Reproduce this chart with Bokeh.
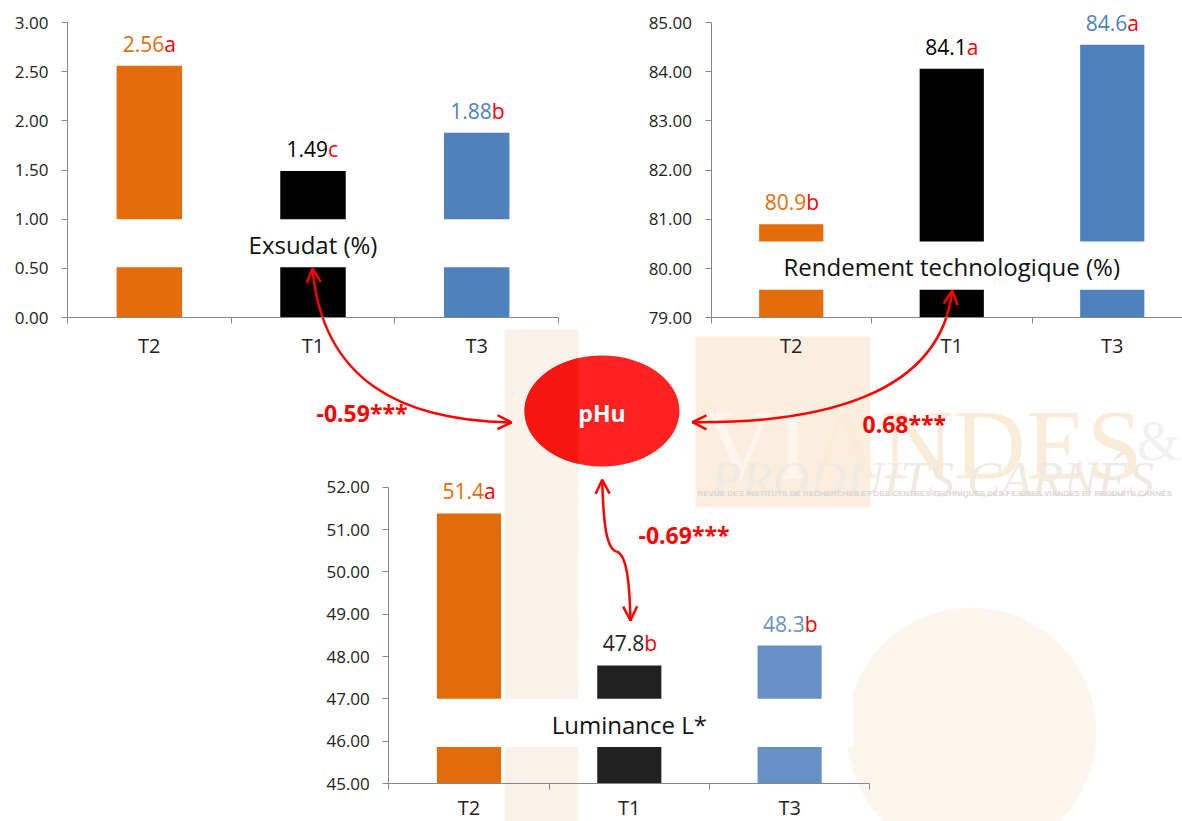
import numpy as np
from bokeh.plotting import figure
from bokeh.models import Range1d, LinearAxis, FixedTicker, PrintfTickFormatter, Arrow, OpenHead
from bokeh.core.properties import value
from bokeh.embed import file_html
from bokeh.resources import INLINE

# ---------------- data ----------------
categories = ["T2", "T1", "T3"]

exsudat = [2.56, 1.49, 1.88]
exsudat_labels = ["2.56", "1.49", "1.88"]
exsudat_letters = ["a", "c", "b"]
exsudat_ticks = [0.0, 0.5, 1.0, 1.5, 2.0, 2.5, 3.0]

rendement = [80.9, 84.06, 84.55]
rendement_labels = ["80.9", "84.1", "84.6"]
rendement_letters = ["b", "a", "a"]
rendement_ticks = [79, 80, 81, 82, 83, 84, 85]

luminance = [51.38, 47.79, 48.26]
luminance_labels = ["51.4", "47.8", "48.3"]
luminance_letters = ["a", "b", "b"]
luminance_ticks = [45, 46, 47, 48, 49, 50, 51, 52]

correlations = ["-0.59***", "0.68***", "-0.69***"]
node_label = "pHu"

# ---------------- page / frame ----------------
W, H = 1182, 821
PX0, PX1, PY0, PY1 = 0, W, 0, H   # screenshot coordinates of the frame

FONT = value("Open Sans")
AXIS_COL = "#868686"
TXT_COL = "#222222"
RED = "#FF0000"
TXT_SHIFT = -8   # baseline correction (px)


def xrange_for(v0, px0, v1, px1):
    k = (px1 - px0) / (v1 - v0)
    return Range1d(v0 + (PX0 - px0) / k, v0 + (PX1 - px0) / k)


def yrange_for(v0, py0, v1, py1):
    k = (py0 - py1) / (v1 - v0)
    return Range1d(v0 - (PY1 - py0) / k, v0 + (py0 - PY0) / k)


p = figure(width=W, height=H, x_range=Range1d(PX0, PX1), y_range=Range1d(PY1, PY0),
           output_backend="svg", toolbar_location=None,
           x_axis_location=None, y_axis_location=None, min_border=0)
p.outline_line_color = None
p.background_fill_color = "white"
p.border_fill_color = "white"
p.grid.grid_line_color = None

p.extra_x_ranges = {
    "c1x": xrange_for(0, 67, 3, 558),
    "c2x": xrange_for(0, 710.5, 1, 871),
    "c3x": xrange_for(0, 388.3, 3, 869.3),
}
p.extra_y_ranges = {
    "c1y": yrange_for(0, 317, 3, 22),
    "c2y": yrange_for(79, 317.3, 85, 22),
    "c3y": yrange_for(45, 783, 52, 486.7),
}

# ---------------- watermark (behind everything) ----------------
p.quad(left=504, right=578, top=329, bottom=PY1, color="#F9F2EA", line_color=None)
p.quad(left=695, right=870, top=336, bottom=507, color="#FCEEDE", line_color=None)
p.circle(x=971, y=732, radius=125, color="#FDF6EE", line_color=None)
p.text(x=[703], y=[452], text=["VIANDES"], text_font=value("Liberation Serif"),
       text_font_size="100px", text_color="#FBECDA", text_align="left", text_baseline="alphabetic",
       y_offset=TXT_SHIFT)
p.text(x=[703], y=[452], text=["VI"], text_font=value("Liberation Serif"),
       text_font_size="100px", text_color="#FEF6EE", text_align="left", text_baseline="alphabetic",
       y_offset=TXT_SHIFT)
p.text(x=[1136], y=[448], text=["&"], text_font=value("Liberation Serif"),
       text_font_size="56px", text_color="#F1F1F1", text_align="left", text_baseline="alphabetic",
       y_offset=TXT_SHIFT)
p.text(x=[710], y=[486], text=["PRODUITS CARNÉS"], text_font=value("Liberation Serif"),
       text_font_size="51px", text_font_style="italic", text_color="#EFEBE3",
       text_align="left", text_baseline="alphabetic", y_offset=TXT_SHIFT)
p.text(x=[697], y=[493],
       text=["REVUE DES INSTITUTS DE RECHERCHES ET DES CENTRES TECHNIQUES DES FILIÈRES VIANDES ET PRODUITS CARNÉS"],
       text_font=value("Liberation Sans"), text_font_size="8px", text_font_style="bold",
       text_color="#DAD6D2", text_align="left", text_baseline="middle")


# ---------------- the three bar charts ----------------
def bar_chart(key, vals, labels, letters, ticks, bar_colors, label_colors, gap, title, title_y,
              xbound, cat_standoff):
    xr, yr = key + "x", key + "y"
    xs = [i + 0.5 for i in range(len(categories))]
    ymin = ticks[0]
    p.vbar(x=xs, top=vals, bottom=ymin, width=0.4, fill_color=bar_colors, line_color=None,
           x_range_name=xr, y_range_name=yr)
    # white break band through the bars
    p.quad(left=0.1, right=2.9, bottom=gap[0], top=gap[1], color="white", line_color=None,
           x_range_name=xr, y_range_name=yr)
    p.text(x=[1.5], y=[title_y], text=[title], text_font=FONT, text_font_size="24px",
           text_color="#111111", text_align="center", text_baseline="alphabetic",
           y_offset=TXT_SHIFT, x_range_name=xr, y_range_name=yr)
    p.text(x=xs, y=vals, text=labels, text_font=FONT, text_font_size="21px",
           text_color=label_colors, text_align="right", text_baseline="alphabetic",
           x_offset=15, y_offset=-14 + TXT_SHIFT, x_range_name=xr, y_range_name=yr)
    p.text(x=xs, y=vals, text=letters, text_font=FONT, text_font_size="21px",
           text_color=RED, text_align="left", text_baseline="alphabetic",
           x_offset=15, y_offset=-14 + TXT_SHIFT, x_range_name=xr, y_range_name=yr)

    yax = LinearAxis(x_range_name=xr, y_range_name=yr, fixed_location=0,
                     bounds=(ticks[0], ticks[-1]), ticker=FixedTicker(ticks=ticks),
                     formatter=PrintfTickFormatter(format="%.2f"))
    yax.axis_line_color = AXIS_COL
    yax.major_tick_line_color = AXIS_COL
    yax.major_tick_in = 0
    yax.major_tick_out = 6
    yax.minor_tick_line_color = None
    yax.major_label_text_font = "Open Sans"
    yax.major_label_text_font_size = "17px"
    yax.major_label_text_color = TXT_COL
    yax.major_label_standoff = 13
    p.add_layout(yax, "left")

    xax = LinearAxis(x_range_name=xr, y_range_name=yr, fixed_location=ymin,
                     bounds=xbound, ticker=FixedTicker(ticks=[0, 1, 2, 3]))
    xax.axis_line_color = AXIS_COL
    xax.major_tick_line_color = AXIS_COL
    xax.major_tick_in = 0
    xax.major_tick_out = 6
    xax.minor_tick_line_color = None
    xax.major_label_text_color = None
    xax.major_label_text_font_size = "1px"
    p.add_layout(xax, "below")

    lax = LinearAxis(x_range_name=xr, y_range_name=yr, fixed_location=ymin,
                     ticker=FixedTicker(ticks=xs),
                     major_label_overrides={x: c for x, c in zip(xs, categories)})
    lax.axis_line_color = None
    lax.major_tick_line_color = None
    lax.minor_tick_line_color = None
    lax.major_tick_out = 0
    lax.major_tick_in = 0
    lax.major_label_text_font = "Open Sans"
    lax.major_label_text_font_size = "20px"
    lax.major_label_text_color = TXT_COL
    lax.major_label_standoff = cat_standoff
    p.add_layout(lax, "below")


bar_chart("c1", exsudat, exsudat_labels, exsudat_letters, exsudat_ticks,
          ["#E46C0A", "#000000", "#4F81BD"], ["#E46C0A", "#000000", "#4F81BD"],
          (0.51, 1.0), "Exsudat (%)", 0.661, (0, 3), 14)
bar_chart("c2", rendement, rendement_labels, rendement_letters, rendement_ticks,
          ["#E46C0A", "#000000", "#4F81BD"], ["#E46C0A", "#000000", "#4F81BD"],
          (79.57, 80.55), "Rendement technologique (%)", 79.88, (0, 3), 14)
bar_chart("c3", luminance, luminance_labels, luminance_letters, luminance_ticks,
          ["#E36C0A", "#212121", "#6791C5"], ["#E36C0A", "#262626", "#6791C5"],
          (45.86, 47.0), "Luminance L*", 46.21, (0, 3), 10)

# ---------------- pHu node ----------------
cx, cy, a, b = 601.5, 410.5, 77.5, 55.5
p.ellipse(x=cx, y=cy, width=2 * a, height=2 * b, fill_color="#FE2222", line_color=None)
t0 = np.arccos((578 - cx) / a)
t = np.linspace(t0, 2 * np.pi - t0, 80)
p.patch(x=cx + a * np.cos(t), y=cy + b * np.sin(t), fill_color="#F5170F", line_color=None)
p.text(x=[cx], y=[420.7], text=[node_label], text_font=FONT, text_font_size="23px",
       text_font_style="bold", text_color="white", text_align="center", text_baseline="alphabetic",
       y_offset=TXT_SHIFT)

# ---------------- correlation arrows ----------------
LW = 2.5
# Exsudat <-> pHu
p.bezier(x0=[312], y0=[268], x1=[511], y1=[422], cx0=[322], cy0=[380], cx1=[400], cy1=[420],
         line_color=RED, line_width=LW)
# Rendement <-> pHu
p.bezier(x0=[951.7], y0=[290], x1=[692], y1=[421.7], cx0=[940], cy0=[395], cx1=[820], cy1=[423],
         line_color=RED, line_width=LW)
# pHu <-> Luminance (wavy)
p.bezier(x0=[601.7, 616], y0=[479.3, 551], x1=[616, 630], y1=[551, 620],
         cx0=[603, 626], cy0=[525, 554], cx1=[606, 629], cy1=[548, 580],
         line_color=RED, line_width=LW)

heads = [((322, 380), (312, 268)), ((400, 420), (511, 422)),
         ((940, 395), (951.7, 290)), ((820, 423), (692, 421.7)),
         ((603, 525), (601.7, 479.3)), ((629, 580), (630, 620))]
for (sx, sy), (ex, ey) in heads:
    p.add_layout(Arrow(end=OpenHead(size=14, line_color=RED, line_width=LW),
                       x_start=sx, y_start=sy, x_end=ex, y_end=ey, line_alpha=0))

p.text(x=[316, 862, 638], y=[420.7, 431.7, 542.7], text=correlations, text_font=FONT,
       text_font_size="23px", text_font_style="bold", text_color=RED,
       text_align="left", text_baseline="alphabetic", y_offset=TXT_SHIFT)

open("out.html", "w").write(file_html(p, INLINE))
